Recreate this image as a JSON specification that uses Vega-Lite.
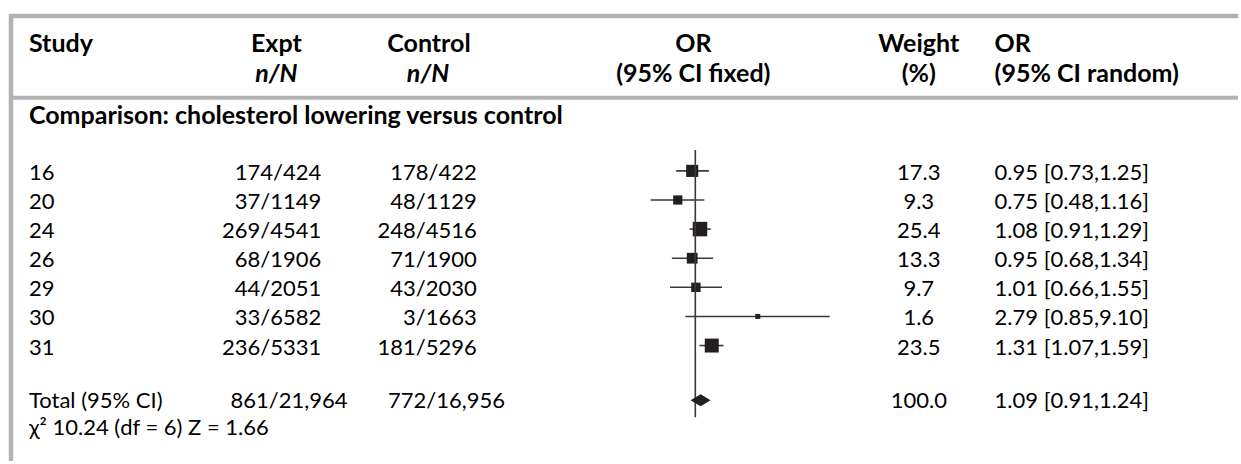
{
  "$schema": "https://vega.github.io/schema/vega-lite/v6.json",
  "width": 1241,
  "height": 464,
  "autosize": {"type": "fit", "contains": "padding"},
  "padding": 0,
  "background": "white",
  "config": {
    "view": {"stroke": null},
    "text": {"font": "Lato", "fontSize": 22, "color": "#000000", "baseline": "middle", "dy": 2}
  },
  "data": {"values": [{}]},
  "datasets": {
    "studies": [
      {"row": 1, "study": "16", "expt": "174/424", "control": "178/422", "or": 0.95, "lo": 0.73, "hi": 1.25, "weight": 17.3, "ci": "0.95 [0.73,1.25]"},
      {"row": 2, "study": "20", "expt": "37/1149", "control": "48/1129", "or": 0.75, "lo": 0.48, "hi": 1.16, "weight": 9.3, "ci": "0.75 [0.48,1.16]"},
      {"row": 3, "study": "24", "expt": "269/4541", "control": "248/4516", "or": 1.08, "lo": 0.91, "hi": 1.29, "weight": 25.4, "ci": "1.08 [0.91,1.29]"},
      {"row": 4, "study": "26", "expt": "68/1906", "control": "71/1900", "or": 0.95, "lo": 0.68, "hi": 1.34, "weight": 13.3, "ci": "0.95 [0.68,1.34]"},
      {"row": 5, "study": "29", "expt": "44/2051", "control": "43/2030", "or": 1.01, "lo": 0.66, "hi": 1.55, "weight": 9.7, "ci": "1.01 [0.66,1.55]"},
      {"row": 6, "study": "30", "expt": "33/6582", "control": "3/1663", "or": 2.79, "lo": 0.85, "hi": 9.10, "weight": 1.6, "ci": "2.79 [0.85,9.10]"},
      {"row": 7, "study": "31", "expt": "236/5331", "control": "181/5296", "or": 1.31, "lo": 1.07, "hi": 1.59, "weight": 23.5, "ci": "1.31 [1.07,1.59]"}
    ],
    "total": [
      {"label": "Total (95% CI)", "expt": "861/21,964", "control": "772/16,956", "or": 1.09, "lo": 0.91, "hi": 1.24, "weight": 100.0, "ci": "1.09 [0.91,1.24]", "het": "χ² 10.24 (df = 6) Z = 1.66"}
    ]
  },
  "layer": [
    {
      "mark": {"type": "rule", "color": "#b3b3b3", "strokeWidth": 4.5},
      "encoding": {
        "x": {"datum": 9, "type": "quantitative", "scale": {"domain": [0, 1241], "nice": false, "zero": false}, "axis": null},
        "x2": {"datum": 1241},
        "y": {"datum": -4.32, "type": "quantitative", "scale": {"domain": [-4.87, 10.966], "reverse": true, "nice": false, "zero": false}, "axis": null}
      }
    },
    {
      "mark": {"type": "rule", "color": "#b3b3b3", "strokeWidth": 4.5},
      "encoding": {
        "x": {"datum": 11, "type": "quantitative", "scale": {"domain": [0, 1241], "nice": false, "zero": false}, "axis": null},
        "y": {"datum": -4.39, "type": "quantitative", "scale": {"domain": [-4.87, 10.966], "reverse": true, "nice": false, "zero": false}, "axis": null},
        "y2": {"datum": 10.966}
      }
    },
    {
      "mark": {"type": "rule", "color": "#b3b3b3", "strokeWidth": 4},
      "encoding": {
        "x": {"datum": 13, "type": "quantitative", "scale": {"domain": [0, 1241], "nice": false, "zero": false}, "axis": null},
        "x2": {"datum": 1241},
        "y": {"datum": -1.51, "type": "quantitative", "scale": {"domain": [-4.87, 10.966], "reverse": true, "nice": false, "zero": false}, "axis": null}
      }
    },
    {
      "mark": {"type": "text", "fontWeight": "bold", "fontSize": 25, "align": "left"},
      "encoding": {
        "text": {"value": "Study"},
        "x": {"datum": 29, "type": "quantitative", "scale": {"domain": [0, 1241], "nice": false, "zero": false}, "axis": null},
        "y": {"datum": -3.44, "type": "quantitative", "scale": {"domain": [-4.87, 10.966], "reverse": true, "nice": false, "zero": false}, "axis": null}
      }
    },
    {
      "mark": {"type": "text", "fontWeight": "bold", "fontSize": 25, "align": "center"},
      "encoding": {
        "text": {"value": "Expt"},
        "x": {"datum": 277, "type": "quantitative", "scale": {"domain": [0, 1241], "nice": false, "zero": false}, "axis": null},
        "y": {"datum": -3.44, "type": "quantitative", "scale": {"domain": [-4.87, 10.966], "reverse": true, "nice": false, "zero": false}, "axis": null}
      }
    },
    {
      "mark": {"type": "text", "fontWeight": "bold", "fontSize": 25, "align": "center"},
      "encoding": {
        "text": {"value": "Control"},
        "x": {"datum": 430, "type": "quantitative", "scale": {"domain": [0, 1241], "nice": false, "zero": false}, "axis": null},
        "y": {"datum": -3.44, "type": "quantitative", "scale": {"domain": [-4.87, 10.966], "reverse": true, "nice": false, "zero": false}, "axis": null}
      }
    },
    {
      "mark": {"type": "text", "fontWeight": "bold", "fontSize": 25, "align": "center"},
      "encoding": {
        "text": {"value": "OR"},
        "x": {"datum": 695, "type": "quantitative", "scale": {"domain": [0, 1241], "nice": false, "zero": false}, "axis": null},
        "y": {"datum": -3.44, "type": "quantitative", "scale": {"domain": [-4.87, 10.966], "reverse": true, "nice": false, "zero": false}, "axis": null}
      }
    },
    {
      "mark": {"type": "text", "fontWeight": "bold", "fontSize": 25, "align": "center"},
      "encoding": {
        "text": {"value": "Weight"},
        "x": {"datum": 921, "type": "quantitative", "scale": {"domain": [0, 1241], "nice": false, "zero": false}, "axis": null},
        "y": {"datum": -3.44, "type": "quantitative", "scale": {"domain": [-4.87, 10.966], "reverse": true, "nice": false, "zero": false}, "axis": null}
      }
    },
    {
      "mark": {"type": "text", "fontWeight": "bold", "fontSize": 25, "align": "left"},
      "encoding": {
        "text": {"value": "OR"},
        "x": {"datum": 997, "type": "quantitative", "scale": {"domain": [0, 1241], "nice": false, "zero": false}, "axis": null},
        "y": {"datum": -3.44, "type": "quantitative", "scale": {"domain": [-4.87, 10.966], "reverse": true, "nice": false, "zero": false}, "axis": null}
      }
    },
    {
      "mark": {"type": "text", "fontWeight": "bold", "fontSize": 25, "fontStyle": "italic", "align": "center"},
      "encoding": {
        "text": {"value": "n/N"},
        "x": {"datum": 277, "type": "quantitative", "scale": {"domain": [0, 1241], "nice": false, "zero": false}, "axis": null},
        "y": {"datum": -2.38, "type": "quantitative", "scale": {"domain": [-4.87, 10.966], "reverse": true, "nice": false, "zero": false}, "axis": null}
      }
    },
    {
      "mark": {"type": "text", "fontWeight": "bold", "fontSize": 25, "fontStyle": "italic", "align": "center"},
      "encoding": {
        "text": {"value": "n/N"},
        "x": {"datum": 429, "type": "quantitative", "scale": {"domain": [0, 1241], "nice": false, "zero": false}, "axis": null},
        "y": {"datum": -2.38, "type": "quantitative", "scale": {"domain": [-4.87, 10.966], "reverse": true, "nice": false, "zero": false}, "axis": null}
      }
    },
    {
      "mark": {"type": "text", "fontWeight": "bold", "fontSize": 25, "align": "center"},
      "encoding": {
        "text": {"value": "(95% CI fixed)"},
        "x": {"datum": 695, "type": "quantitative", "scale": {"domain": [0, 1241], "nice": false, "zero": false}, "axis": null},
        "y": {"datum": -2.38, "type": "quantitative", "scale": {"domain": [-4.87, 10.966], "reverse": true, "nice": false, "zero": false}, "axis": null}
      }
    },
    {
      "mark": {"type": "text", "fontWeight": "bold", "fontSize": 25, "align": "center"},
      "encoding": {
        "text": {"value": "(%)"},
        "x": {"datum": 921, "type": "quantitative", "scale": {"domain": [0, 1241], "nice": false, "zero": false}, "axis": null},
        "y": {"datum": -2.38, "type": "quantitative", "scale": {"domain": [-4.87, 10.966], "reverse": true, "nice": false, "zero": false}, "axis": null}
      }
    },
    {
      "mark": {"type": "text", "fontWeight": "bold", "fontSize": 25, "align": "left"},
      "encoding": {
        "text": {"value": "(95% CI random)"},
        "x": {"datum": 997, "type": "quantitative", "scale": {"domain": [0, 1241], "nice": false, "zero": false}, "axis": null},
        "y": {"datum": -2.38, "type": "quantitative", "scale": {"domain": [-4.87, 10.966], "reverse": true, "nice": false, "zero": false}, "axis": null}
      }
    },
    {
      "mark": {"type": "text", "fontWeight": "bold", "fontSize": 25, "align": "left"},
      "encoding": {
        "text": {"value": "Comparison: cholesterol lowering versus control"},
        "x": {"datum": 29, "type": "quantitative", "scale": {"domain": [0, 1241], "nice": false, "zero": false}, "axis": null},
        "y": {"datum": -0.95, "type": "quantitative", "scale": {"domain": [-4.87, 10.966], "reverse": true, "nice": false, "zero": false}, "axis": null}
      }
    },
    {
      "data": {"name": "studies"},
      "mark": {"type": "text", "align": "left"},
      "encoding": {
        "text": {"field": "study", "type": "nominal"},
        "x": {"datum": 29, "type": "quantitative", "scale": {"domain": [0, 1241], "nice": false, "zero": false}, "axis": null},
        "y": {"field": "row", "type": "quantitative", "scale": {"domain": [-4.87, 10.966], "reverse": true, "nice": false, "zero": false}, "axis": null}
      }
    },
    {
      "data": {"name": "studies"},
      "mark": {"type": "text", "align": "right"},
      "encoding": {
        "text": {"field": "expt", "type": "nominal"},
        "x": {"datum": 322, "type": "quantitative", "scale": {"domain": [0, 1241], "nice": false, "zero": false}, "axis": null},
        "y": {"field": "row", "type": "quantitative", "scale": {"domain": [-4.87, 10.966], "reverse": true, "nice": false, "zero": false}, "axis": null}
      }
    },
    {
      "data": {"name": "studies"},
      "mark": {"type": "text", "align": "right"},
      "encoding": {
        "text": {"field": "control", "type": "nominal"},
        "x": {"datum": 478, "type": "quantitative", "scale": {"domain": [0, 1241], "nice": false, "zero": false}, "axis": null},
        "y": {"field": "row", "type": "quantitative", "scale": {"domain": [-4.87, 10.966], "reverse": true, "nice": false, "zero": false}, "axis": null}
      }
    },
    {
      "data": {"name": "studies"},
      "mark": {"type": "text", "align": "center"},
      "encoding": {
        "text": {"field": "weight", "type": "quantitative", "format": ".1f"},
        "x": {"datum": 921, "type": "quantitative", "scale": {"domain": [0, 1241], "nice": false, "zero": false}, "axis": null},
        "y": {"field": "row", "type": "quantitative", "scale": {"domain": [-4.87, 10.966], "reverse": true, "nice": false, "zero": false}, "axis": null}
      }
    },
    {
      "data": {"name": "studies"},
      "mark": {"type": "text", "align": "left"},
      "encoding": {
        "text": {"field": "ci", "type": "nominal"},
        "x": {"datum": 997, "type": "quantitative", "scale": {"domain": [0, 1241], "nice": false, "zero": false}, "axis": null},
        "y": {"field": "row", "type": "quantitative", "scale": {"domain": [-4.87, 10.966], "reverse": true, "nice": false, "zero": false}, "axis": null}
      }
    },
    {
      "data": {"name": "studies"},
      "mark": {"type": "rule", "color": "#3a3a3a", "strokeWidth": 1.6},
      "encoding": {
        "x": {"field": "lo", "type": "quantitative", "scale": {"type": "log", "domain": [1.091e-5, 7464], "nice": false}, "axis": null},
        "x2": {"field": "hi"},
        "y": {"field": "row", "type": "quantitative", "scale": {"domain": [-4.87, 10.966], "reverse": true, "nice": false, "zero": false}, "axis": null}
      }
    },
    {
      "data": {"name": "studies"},
      "mark": {"type": "point", "shape": "square", "filled": true, "color": "#231f20", "opacity": 1},
      "encoding": {
        "x": {"field": "or", "type": "quantitative", "scale": {"type": "log", "domain": [1.091e-5, 7464], "nice": false}, "axis": null},
        "y": {"field": "row", "type": "quantitative", "scale": {"domain": [-4.87, 10.966], "reverse": true, "nice": false, "zero": false}, "axis": null},
        "size": {"field": "weight", "type": "quantitative", "scale": {"domain": [1.6, 25.4], "range": [25, 210]}, "legend": null}
      }
    },
    {
      "data": {"name": "total"},
      "mark": {"type": "text", "align": "left"},
      "encoding": {
        "text": {"field": "label", "type": "nominal"},
        "x": {"datum": 29, "type": "quantitative", "scale": {"domain": [0, 1241], "nice": false, "zero": false}, "axis": null},
        "y": {"datum": 8.84, "type": "quantitative", "scale": {"domain": [-4.87, 10.966], "reverse": true, "nice": false, "zero": false}, "axis": null}
      }
    },
    {
      "data": {"name": "total"},
      "mark": {"type": "text", "align": "left"},
      "encoding": {
        "text": {"field": "expt", "type": "nominal"},
        "x": {"datum": 231, "type": "quantitative", "scale": {"domain": [0, 1241], "nice": false, "zero": false}, "axis": null},
        "y": {"datum": 8.84, "type": "quantitative", "scale": {"domain": [-4.87, 10.966], "reverse": true, "nice": false, "zero": false}, "axis": null}
      }
    },
    {
      "data": {"name": "total"},
      "mark": {"type": "text", "align": "left"},
      "encoding": {
        "text": {"field": "control", "type": "nominal"},
        "x": {"datum": 389, "type": "quantitative", "scale": {"domain": [0, 1241], "nice": false, "zero": false}, "axis": null},
        "y": {"datum": 8.84, "type": "quantitative", "scale": {"domain": [-4.87, 10.966], "reverse": true, "nice": false, "zero": false}, "axis": null}
      }
    },
    {
      "data": {"name": "total"},
      "mark": {"type": "text", "align": "center"},
      "encoding": {
        "text": {"field": "weight", "type": "quantitative", "format": ".1f"},
        "x": {"datum": 921, "type": "quantitative", "scale": {"domain": [0, 1241], "nice": false, "zero": false}, "axis": null},
        "y": {"datum": 8.84, "type": "quantitative", "scale": {"domain": [-4.87, 10.966], "reverse": true, "nice": false, "zero": false}, "axis": null}
      }
    },
    {
      "data": {"name": "total"},
      "mark": {"type": "text", "align": "left"},
      "encoding": {
        "text": {"field": "ci", "type": "nominal"},
        "x": {"datum": 997, "type": "quantitative", "scale": {"domain": [0, 1241], "nice": false, "zero": false}, "axis": null},
        "y": {"datum": 8.84, "type": "quantitative", "scale": {"domain": [-4.87, 10.966], "reverse": true, "nice": false, "zero": false}, "axis": null}
      }
    },
    {
      "data": {"name": "total"},
      "mark": {"type": "text", "align": "left"},
      "encoding": {
        "text": {"field": "het", "type": "nominal"},
        "x": {"datum": 29, "type": "quantitative", "scale": {"domain": [0, 1241], "nice": false, "zero": false}, "axis": null},
        "y": {"datum": 9.78, "type": "quantitative", "scale": {"domain": [-4.87, 10.966], "reverse": true, "nice": false, "zero": false}, "axis": null}
      }
    },
    {
      "mark": {"type": "rule", "color": "#3a3a3a", "strokeWidth": 1.6},
      "encoding": {
        "x": {"datum": 1, "type": "quantitative", "scale": {"type": "log", "domain": [1.091e-5, 7464], "nice": false}, "axis": null},
        "y": {"datum": 0.28, "type": "quantitative", "scale": {"domain": [-4.87, 10.966], "reverse": true, "nice": false, "zero": false}, "axis": null},
        "y2": {"datum": 9.46}
      }
    },
    {
      "data": {"name": "total"},
      "mark": {"type": "point", "shape": "M-1,0L0,-0.6L1,0L0,0.6Z", "filled": true, "color": "#231f20", "opacity": 1, "size": 400},
      "encoding": {
        "x": {"field": "or", "type": "quantitative", "scale": {"type": "log", "domain": [1.091e-5, 7464], "nice": false}, "axis": null},
        "y": {"datum": 8.88, "type": "quantitative", "scale": {"domain": [-4.87, 10.966], "reverse": true, "nice": false, "zero": false}, "axis": null}
      }
    }
  ],
  "resolve": {"scale": {"x": "independent"}}
}
